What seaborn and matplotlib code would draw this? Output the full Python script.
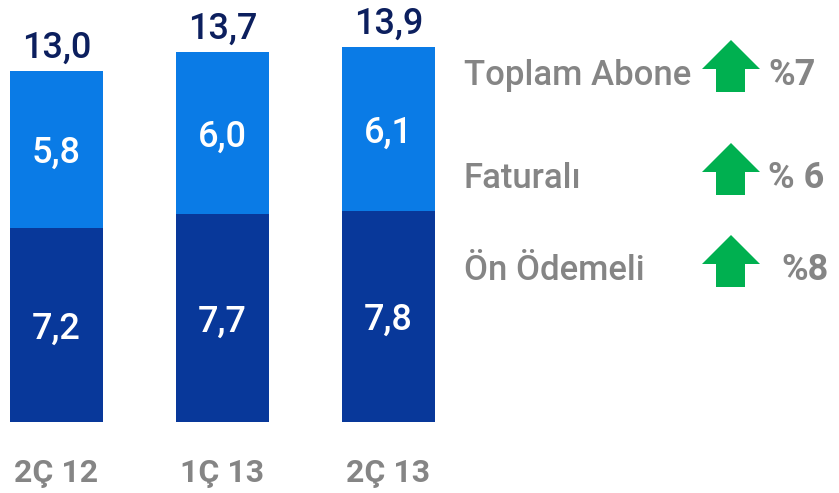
import matplotlib
matplotlib.use("Agg")
import matplotlib.pyplot as plt
import seaborn as sns
import pandas as pd
from matplotlib.patches import Polygon

periods = ["2Ç 12", "1Ç 13", "2Ç 13"]
on_odemeli = [7.2, 7.7, 7.8]
faturali = [5.8, 6.0, 6.1]
toplam = [13.0, 13.7, 13.9]

growth_labels = ["Toplam Abone", "Faturalı", "Ön Ödemeli"]
growth_values = ["%7", "% 6", "%8"]

DARK = "#08389A"
LIGHT = "#0A7BE6"
NAVY = "#0C1F5E"
GRAY = "#858585"
GREEN = "#00B050"

sns.set_theme(style="white")
plt.rcParams["font.family"] = ["Roboto", "DejaVu Sans"]

df = pd.DataFrame({"period": periods, "on": on_odemeli, "fat": faturali, "tot": toplam})

W, H = 839, 493
fig = plt.figure(figsize=(W / 100, H / 100), dpi=100)
ax = fig.add_axes([0, 71 / H, 1, 422 / H])

sns.barplot(data=df, x="period", y="tot", color=LIGHT, width=0.56, saturation=1,
            linewidth=0, ax=ax)
sns.barplot(data=df, x="period", y="on", color=DARK, width=0.56, saturation=1,
            linewidth=0, ax=ax)
ax.set_xlim(-0.34, 4.714)
ax.set_ylim(0, 422 / 27)
ax.axis("off")

def fmt(v):
    return f"{v:.1f}".replace(".", ",")

for i, row in df.iterrows():
    ax.text(i, row["on"] / 2 - 0.15, fmt(row["on"]), color="white", ha="center",
            va="center", fontsize=26, fontweight="medium")
    ax.text(i, row["on"] + row["fat"] / 2 - 0.15, fmt(row["fat"]), color="white",
            ha="center", va="center", fontsize=26, fontweight="medium")
    ax.text(i, row["tot"] + 0.2, fmt(row["tot"]), color=NAVY, ha="center",
            va="bottom", fontsize=26, fontweight="medium")
    ax.text(i, -1.88, row["period"], color=GRAY, ha="center", va="center",
            fontsize=23, fontweight="bold")

# right-hand growth panel, pixel overlay
ov = fig.add_axes([0, 0, 1, 1])
ov.set_xlim(0, W)
ov.set_ylim(H, 0)
ov.axis("off")
ov.patch.set_alpha(0)

rows_y = [75, 178, 270]
pct_x = [768, 768, 781]
for lab, val, y, px in zip(growth_labels, growth_values, rows_y, pct_x):
    ov.text(464, y, lab, color=GRAY, ha="left", va="center", fontsize=25,
            fontweight="medium")
    ov.text(px, y, val, color=GRAY, ha="left", va="center", fontsize=26,
            fontweight="bold")
    top = y - 35
    arrow = [(731, top), (760, top + 29), (745, top + 29), (745, top + 52),
             (716, top + 52), (716, top + 29), (702, top + 29)]
    ov.add_patch(Polygon(arrow, closed=True, color=GREEN, lw=0))

fig.savefig("out.png", dpi=100)
